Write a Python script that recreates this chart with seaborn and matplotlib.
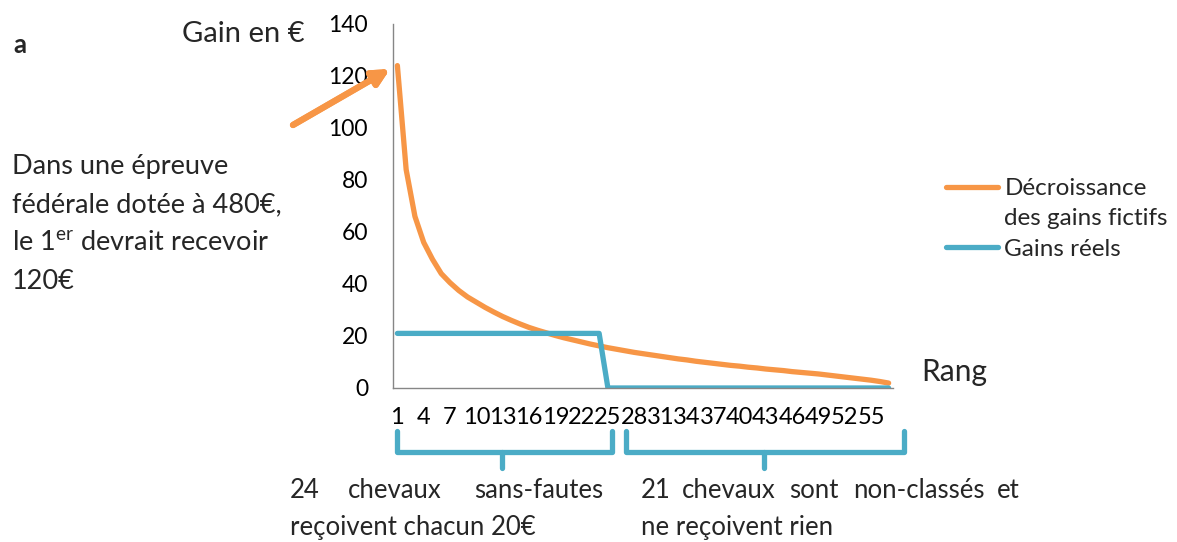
import numpy as np
import pandas as pd
import seaborn as sns
import matplotlib.pyplot as plt
from matplotlib.lines import Line2D

# data
rangs = list(range(1, 58))
gains_fictifs = [124, 84, 66, 56, 49.5, 44, 40.5, 37.5, 35, 33,
                 31, 29.2, 27.5, 26, 24.6, 23.3, 22.2, 21.2, 20.2, 19.3,
                 18.5, 17.7, 16.9, 16.2, 15.5, 14.9, 14.3, 13.7, 13.2, 12.7,
                 12.2, 11.7, 11.2, 10.8, 10.3, 9.9, 9.5, 9.1, 8.7, 8.4,
                 8.0, 7.7, 7.3, 7.0, 6.7, 6.3, 6.0, 5.7, 5.4, 5.0,
                 4.6, 4.2, 3.8, 3.4, 3.0, 2.5, 1.9]
gains_reels = [21] * 24 + [0] * 33
series_names = ["Décroissance", "Gains réels"]
xtick_labels = [str(r) for r in range(1, 56, 3)]
ytick_values = [0, 20, 40, 60, 80, 100, 120, 140]

ORANGE = "#F79646"
BLUE = "#4BACC6"

sns.set_theme(style="white")
plt.rcParams['font.family'] = ['Lato', 'DejaVu Sans']

df = pd.DataFrame({
    "Rang": rangs * 2,
    "Gain": gains_fictifs + gains_reels,
    "Serie": [series_names[0]] * len(rangs) + [series_names[1]] * len(rangs),
})

W, H = 1177, 542
fig = plt.figure(figsize=(W / 100, H / 100), dpi=100)
ax = fig.add_axes([393 / W, 1 - 388 / H, 500 / W, 364 / H])

sns.lineplot(data=df, x="Rang", y="Gain", hue="Serie",
             palette=[ORANGE, BLUE], linewidth=3.8, ax=ax, legend=False,
             solid_joinstyle="round", solid_capstyle="round")

ax.set_xlim(0.5, 57.5)
ax.set_ylim(0, 140)
ax.set_xticks(range(1, 56, 3))
ax.set_xticklabels(xtick_labels, fontsize=17)
ax.set_yticks(ytick_values)
ax.set_yticklabels([str(v) for v in ytick_values], fontsize=16.5)
ax.tick_params(axis="y", length=0, pad=18, colors="black")
ax.tick_params(axis="x", length=0, pad=14, colors="black")
ax.set_xlabel("")
ax.set_ylabel("")
for s in ["top", "right"]:
    ax.spines[s].set_visible(False)
for s in ["left", "bottom"]:
    ax.spines[s].set_color("#868686")
    ax.spines[s].set_linewidth(1.0)

# legend: handle next to first line of the two-line label
handles = [Line2D([], [], color=ORANGE, lw=3.8, solid_capstyle="round"),
           Line2D([], [], color="none"),
           Line2D([], [], color=BLUE, lw=3.8, solid_capstyle="round")]
labels = ["Décroissance", "des gains fictifs", "Gains réels"]
fig.legend(handles, labels, loc="upper left",
           bbox_to_anchor=(946 / W, 1 - 178 / H), frameon=False,
           fontsize=17.5, handlelength=2.15, handletextpad=0.25,
           labelspacing=0.38, borderaxespad=0, borderpad=0)

def fx(x):
    return x / W

def fy(y):
    return 1 - y / H

# texts
fig.text(fx(13), fy(45), "a", fontsize=18.5, fontweight="bold", va="center")
fig.text(fx(182), fy(34), "Gain en €", fontsize=21, va="center")
fig.text(fx(921), fy(372), "Rang", fontsize=21.5, va="center")
para = ["Dans une épreuve", "fédérale dotée à 480€,",
        r"le 1$^{\mathregular{er}}$ devrait recevoir", "120€"]
for i, line in enumerate(para):
    fig.text(fx(12), fy(167 + i * 38.3), line, fontsize=19.5, va="center")

# arrow pointing at first rank
fig.add_artist(plt.annotate("", xy=(fx(390), fy(69)), xytext=(fx(293), fy(125)),
                            xycoords="figure fraction", textcoords="figure fraction",
                            arrowprops=dict(arrowstyle="-|>,head_length=0.8,head_width=0.4",
                                            color=ORANGE, lw=4.5, shrinkA=0, shrinkB=0)))

# braces under the x axis
def brace(x0, x1, xm):
    fig.add_artist(Line2D([fx(x0), fx(x0), fx(x1), fx(x1)],
                          [fy(431), fy(452), fy(452), fy(431)],
                          color=BLUE, lw=3.8, solid_joinstyle="round",
                          solid_capstyle="round"))
    fig.add_artist(Line2D([fx(xm), fx(xm)], [fy(452), fy(468)],
                          color=BLUE, lw=3.8, solid_capstyle="round"))

brace(397, 612, 502)
brace(626, 904, 764)

# justified first lines, word by word
fs = 18.5
fig.text(fx(290), fy(490), "24", fontsize=fs, va="center", ha="left")
fig.text(fx(395), fy(490), "chevaux", fontsize=fs, va="center", ha="center")
fig.text(fx(603), fy(490), "sans-fautes", fontsize=fs, va="center", ha="right")
fig.text(fx(290), fy(528), "reçoivent chacun 20€", fontsize=fs, va="center")

fig.text(fx(641), fy(490), "21", fontsize=fs, va="center", ha="left")
fig.text(fx(729), fy(490), "chevaux", fontsize=fs, va="center", ha="center")
fig.text(fx(814), fy(490), "sont", fontsize=fs, va="center", ha="center")
fig.text(fx(919), fy(490), "non-classés", fontsize=fs, va="center", ha="center")
fig.text(fx(1020), fy(490), "et", fontsize=fs, va="center", ha="right")
fig.text(fx(641), fy(528), "ne reçoivent rien", fontsize=fs, va="center")

fig.savefig("out.png", dpi=100)
